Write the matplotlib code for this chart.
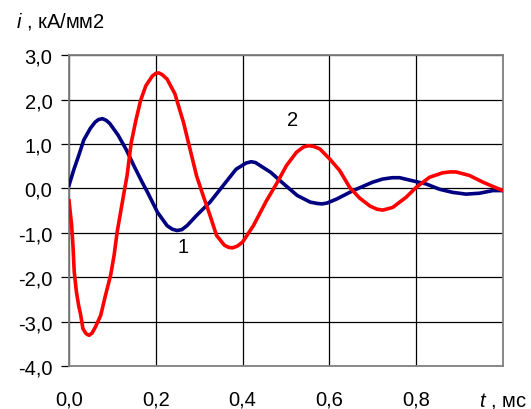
import matplotlib
matplotlib.use("Agg")
import matplotlib.pyplot as plt
from matplotlib.ticker import FixedLocator, FuncFormatter

plt.rcParams['font.family'] = ['Liberation Sans', 'DejaVu Sans']
plt.rcParams['mathtext.fontset'] = 'custom'
plt.rcParams['mathtext.it'] = 'Liberation Sans:italic'
plt.rcParams['mathtext.rm'] = 'Liberation Sans'

# curve 1 (blue)
t1 = [0.0, 0.011, 0.023, 0.034, 0.049, 0.060, 0.068, 0.077, 0.086, 0.094,
      0.113, 0.132, 0.150, 0.169, 0.181, 0.204, 0.226, 0.238, 0.249, 0.260,
      0.272, 0.294, 0.325, 0.355, 0.385, 0.408, 0.420, 0.430, 0.465, 0.495,
      0.526, 0.556, 0.572, 0.583, 0.595, 0.617, 0.655, 0.700, 0.723, 0.745,
      0.762, 0.792, 0.823, 0.854, 0.884, 0.915, 0.946, 0.977, 1.0]
i1 = [0.07, 0.42, 0.76, 1.09, 1.35, 1.49, 1.55, 1.57, 1.53, 1.46,
      1.20, 0.87, 0.50, 0.13, -0.09, -0.54, -0.84, -0.92, -0.95, -0.93,
      -0.84, -0.61, -0.31, 0.06, 0.43, 0.57, 0.60, 0.58, 0.36, 0.10,
      -0.16, -0.31, -0.34, -0.35, -0.33, -0.24, -0.05, 0.14, 0.21, 0.24,
      0.24, 0.17, 0.10, -0.02, -0.09, -0.13, -0.11, -0.05, -0.05]

# curve 2 (red)
t2 = [0.0, 0.006, 0.009, 0.012, 0.017, 0.022, 0.027, 0.032, 0.039, 0.046,
      0.053, 0.061, 0.073, 0.084, 0.096, 0.104, 0.111, 0.119, 0.127, 0.134,
      0.143, 0.154, 0.165, 0.177, 0.192, 0.200, 0.207, 0.215, 0.226, 0.244,
      0.264, 0.279, 0.294, 0.309, 0.325, 0.340, 0.358, 0.368, 0.377, 0.388,
      0.400, 0.425, 0.455, 0.478, 0.501, 0.524, 0.540, 0.551, 0.562, 0.578,
      0.601, 0.624, 0.647, 0.670, 0.694, 0.710, 0.723, 0.746, 0.777, 0.800,
      0.831, 0.861, 0.878, 0.892, 0.923, 0.954, 0.980, 1.0]
i2 = [-0.28, -0.83, -1.28, -1.88, -2.33, -2.63, -2.86, -3.16, -3.27, -3.31,
      -3.26, -3.12, -2.86, -2.41, -1.95, -1.50, -0.98, -0.53, -0.08, 0.30,
      1.01, 1.53, 1.98, 2.31, 2.53, 2.59, 2.60, 2.56, 2.46, 2.13,
      1.48, 0.88, 0.28, -0.16, -0.61, -1.06, -1.28, -1.33, -1.34, -1.30,
      -1.21, -0.84, -0.28, 0.10, 0.51, 0.81, 0.93, 0.96, 0.95, 0.89,
      0.66, 0.40, 0.02, -0.22, -0.40, -0.47, -0.49, -0.43, -0.20, 0.02,
      0.25, 0.35, 0.37, 0.37, 0.29, 0.14, 0.03, -0.05]

x_ticks = [0.0, 0.2, 0.4, 0.6, 0.8, 1.0]
x_labels = ['0,0', '0,2', '0,4', '0,6', '0,8', '$t$ , мс']
y_ticks = [-4, -3, -2, -1, 0, 1, 2, 3]

fs = 14.5

fig = plt.figure(figsize=(5.31, 4.10), dpi=100)
ax = fig.add_axes([0.130, 0.105, 0.817, 0.758])

ax.plot(t1, i1, color='#000080', lw=2.6, zorder=3, solid_joinstyle='round')
ax.plot(t2, i2, color='#ff0000', lw=2.6, zorder=4, solid_joinstyle='round')

ax.set_xlim(0, 1.0)
ax.set_ylim(-4, 3)
ax.xaxis.set_major_locator(FixedLocator(x_ticks))
ax.set_xticklabels(x_labels)
ax.yaxis.set_major_locator(FixedLocator(y_ticks))
ax.yaxis.set_major_formatter(FuncFormatter(lambda v, p: f'{v:.1f}'.replace('.', ',')))
ax.grid(True, color='black', lw=0.9)
ax.tick_params(axis='x', length=0, pad=17, labelsize=fs)
ax.tick_params(axis='y', length=6, width=0.9, direction='out', pad=6, labelsize=fs)
for s in ax.spines.values():
    s.set_color('#808080')
    s.set_linewidth(1.3)

ax.text(0.262, -1.32, '1', fontsize=fs, ha='center', va='center')
ax.text(0.515, 1.55, '2', fontsize=fs, ha='center', va='center')

fig.text(16 / 531, 1 - 21 / 410, '$i$ , кА/мм2', fontsize=fs, ha='left', va='center')

fig.savefig('out.png', dpi=100)
